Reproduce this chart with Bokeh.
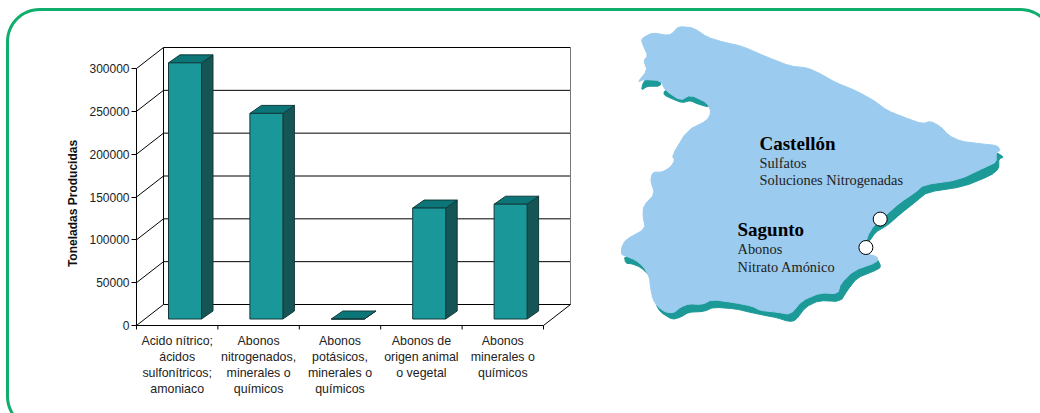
import numpy as np
from bokeh.core.properties import value
from bokeh.embed import file_html
from bokeh.models import BasicTickFormatter, FixedTicker, LinearAxis, Range1d
from bokeh.plotting import figure
from bokeh.resources import INLINE

# Production per product group (tonnes)
categories = [
    "Acido nítrico;\nácidos\nsulfonítricos;\namoniaco",
    "Abonos\nnitrogenados,\nminerales o\nquímicos",
    "Abonos\npotásicos,\nminerales o\nquímicos",
    "Abonos de\norigen animal\no vegetal",
    "Abonos\nminerales o\nquímicos",
]
production = [299000, 240000, 0, 129500, 134000]
y_ticks = [0, 50000, 100000, 150000, 200000, 250000, 300000]
y_title = "Toneladas Producidas"

# Outline of the mainland and its highlighted coast, on the page grid
land_x = [640.7, 651.7, 668.3, 673, 678, 693, 706.7, 723, 741.7, 766.7, 790, 806.7, 820, 835, 855, 873.3, 886.7, 903.3, 921.7, 930, 940, 948.3, 960, 980, 996.7, 1000, 995.7, 995.7, 986.7, 958.3, 923.3, 915, 900, 886.7, 873.3, 866.7, 863, 877, 876.7, 853.3, 840, 837.3, 820, 801.7, 790, 776.7, 760, 751.7, 735, 711.7, 701.7, 688.3, 680, 673.3, 665, 656.7, 652.3, 650, 649, 643, 635, 624, 621, 621, 625, 645, 642.3, 643.3, 654.3, 650, 652.3, 661.7, 670, 674.3, 671.7, 686.7, 706.7, 710.7, 706.7, 690, 680, 665, 660, 643.3, 637.3, 646.7, 643.3, 647.3, 642.7]
land_y = [38.3, 32.3, 35, 31.7, 26, 27.3, 36.7, 41.7, 45.7, 56.7, 65.7, 67.3, 73.3, 82, 90, 100, 110, 116.7, 123.3, 120.7, 126, 135, 140.7, 143.3, 145, 150, 151.7, 161.7, 165.7, 179.3, 184.3, 191.7, 201.7, 213.3, 225, 236, 253, 256, 261.7, 270, 283.3, 293.3, 292.3, 300, 314, 311.7, 310, 305.7, 302.3, 299, 304, 303.3, 306.7, 312.3, 311.7, 305.7, 298.3, 286.7, 276.7, 266, 259.5, 255, 254, 247.3, 239.3, 228.3, 215, 205, 193.3, 180, 171.7, 171.7, 166.7, 160, 155, 130, 120, 111.7, 102.3, 94.3, 100, 90, 80, 79, 81.7, 70, 60, 55, 45]

coast_x = [
    [645, 660, 660, 646.7, 641, 642.3],
    [664, 670, 681.7, 690, 700, 708.3, 708.3, 696.7, 690, 681.7, 670, 663.3],
    [995.7, 1003.3, 998.3, 998.3, 990, 963.3, 926.7, 916.7, 900, 886.7, 875, 868.3, 865, 873.3, 886.7, 900, 915, 923.3, 958.3, 986.7, 995.7],
    [876.7, 880.7, 873.3, 856.7, 846.7, 840, 818.3, 805, 795, 788.3, 776.7, 765, 751.7, 735, 713.3, 703.3, 688.3, 680, 671.7, 660, 655, 700, 840],
    [624, 635, 643.3, 649, 640, 631.7, 625],
]
coast_y = [
    [79, 79, 85.7, 85.7, 89.7, 83.3],
    [90, 91, 96, 94, 98.3, 102.3, 106.7, 103.3, 100, 102.3, 97.7, 94.3],
    [151.7, 156.7, 158.3, 168.3, 175, 186, 191.7, 200, 213.3, 225, 231.7, 241.7, 235, 225, 213.3, 201.7, 191.7, 184.3, 179.3, 165.7, 161.7],
    [258, 266.7, 270.7, 277.3, 290, 301, 300, 306.7, 320, 321, 317.3, 315, 312.3, 308.3, 306.7, 311, 311.7, 316.7, 319, 311.7, 303.3, 290, 270],
    [255.7, 259, 266.7, 275, 266.7, 263.3, 262.7],
]

# Plant sites
site_x = [879.7, 865.4]
site_y = [218.6, 247]

# Place names with their products
heading_x = [759, 737]
heading_y = [143, 229]
heading_text = ["Castellón", "Sagunto"]
detail_x = [759, 759, 737, 737]
detail_y = [162, 179, 248, 266]
detail_text = ["Sulfatos", "Soluciones Nitrogenadas", "Abonos", "Nitrato Amónico"]

# Pixel scale of the value axis and of the category slots
PX_PER_UNIT = 257 / 300000
SLOT_PX = 81.4
ORIGIN_X, ORIGIN_Y = 136, 325
W, H = 1040, 413


def dx(px):
    return px / SLOT_PX


def dy(px):
    return px / PX_PER_UNIT


def soften(xs, ys):
    """One corner-cutting pass so the coast does not read as straight segments."""
    pts = np.column_stack([xs, ys])
    nxt = np.roll(pts, -1, axis=0)
    cut = np.empty((2 * len(pts), 2))
    cut[0::2] = 0.8 * pts + 0.2 * nxt
    cut[1::2] = 0.2 * pts + 0.8 * nxt
    return cut[:, 0].tolist(), cut[:, 1].tolist()


p = figure(
    width=W, height=H, output_backend="svg", toolbar_location=None,
    x_range=Range1d(-ORIGIN_X / SLOT_PX, (W - ORIGIN_X) / SLOT_PX),
    y_range=Range1d((ORIGIN_Y - H) / PX_PER_UNIT, ORIGIN_Y / PX_PER_UNIT),
    x_axis_type=None, y_axis_type=None, min_border=0,
)
p.outline_line_color = None
p.grid.visible = False
p.background_fill_color = "white"
p.extra_x_ranges["page"] = Range1d(0, W)
p.extra_y_ranges["page"] = Range1d(H, 0)
page = dict(x_range_name="page", y_range_name="page")

# Rounded panel frame, running off the right and bottom edges
L, T, R, B, rad = 7, 9, 1052, 428, 32
arc = np.linspace(0, np.pi / 2, 16)
frame_x = np.concatenate([L + rad - rad * np.cos(arc), R - rad + rad * np.sin(arc),
                          R - rad + rad * np.cos(arc), L + rad - rad * np.sin(arc), [L]])
frame_y = np.concatenate([T + rad - rad * np.sin(arc), T + rad - rad * np.cos(arc),
                          B - rad + rad * np.sin(arc), B - rad + rad * np.cos(arc), [T + rad]])
p.line(frame_x, frame_y, line_color="#10AE6C", line_width=3, **page)

# Back wall, floor and gridlines of the 3D box
depth_x, depth_y = dx(27), dy(21)
n = len(categories)
for t in y_ticks:
    p.line([depth_x, n + depth_x], [t + depth_y, t + depth_y], line_color="black", line_width=1)
    p.line([0, depth_x], [t, t + depth_y], line_color="black", line_width=1)
p.line([depth_x, depth_x], [depth_y, y_ticks[-1] + depth_y], line_color="black", line_width=1)
p.line([n + depth_x, n + depth_x], [depth_y, y_ticks[-1] + depth_y], line_color="#777777", line_width=1)
p.line([n, n + depth_x], [0, depth_y], line_color="black", line_width=1)

# Bars as front face, side face and top face
bar_left = [i + dx(32) for i in range(n)]
bar_w, bar_base = dx(33), dy(6.5)
side_x, side_y = dx(11.5), dy(8)
front = "#1A9899"
side = "#165556"
top = "#0C7577"
edge = "#123A3B"
p.patches(
    [[l + bar_w, l + bar_w + side_x, l + bar_w + side_x, l + bar_w] for l in bar_left],
    [[bar_base, bar_base + side_y, bar_base + side_y + v, bar_base + v] for v in production],
    fill_color=side, line_color=edge,
)
p.patches(
    [[l, l + side_x, l + bar_w + side_x, l + bar_w] for l in bar_left],
    [[bar_base + v, bar_base + side_y + v, bar_base + side_y + v, bar_base + v] for v in production],
    fill_color=top, line_color=edge,
)
p.quad(left=bar_left, right=[l + bar_w for l in bar_left], bottom=bar_base,
       top=[bar_base + v for v in production], fill_color=front, line_color=edge)

# Value axis on the front edge
y_axis = LinearAxis(fixed_location=0, bounds=(0, 300000), ticker=FixedTicker(ticks=y_ticks),
                    formatter=BasicTickFormatter(use_scientific=False))
y_axis.major_label_text_font = "Liberation Sans"
y_axis.major_label_text_font_size = "12px"
y_axis.major_label_text_color = "#222222"
y_axis.major_tick_in = 0
y_axis.major_tick_out = 5
y_axis.minor_tick_line_color = None
y_axis.major_label_standoff = 2
p.add_layout(y_axis, "left")

# Category baseline with its slot ticks
p.line([0, n], [0, 0], line_color="black", line_width=1)
p.segment(list(range(n + 1)), [0] * (n + 1), list(range(n + 1)), [dy(-4)] * (n + 1),
          line_color="black", line_width=1)

# Category captions under each slot, title along the value axis
p.text(
    [i + 0.5 for i in range(n)], [dy(-8)] * n, text=categories,
    text_font=value("Liberation Sans"), text_font_size="12.4px", text_color="#222222",
    text_align="center", text_baseline="top", text_line_height=1.16,
)
p.text(
    [72], [203], text=[y_title], angle=np.pi / 2,
    text_font=value("Liberation Sans"), text_font_style="bold", text_font_size="12px",
    text_color="#111111", text_align="center", text_baseline="middle", **page,
)

# Map: coast band first, land over it, then the sites and labels
soft_coast = [soften(x, y) for x, y in zip(coast_x, coast_y)]
soft_land = soften(land_x, land_y)
p.patches([c[0] for c in soft_coast], [c[1] for c in soft_coast],
          fill_color="#1C9A98", line_color="#1C9A98", line_width=1, **page)
p.patch(soft_land[0], soft_land[1], fill_color="#9BCBEE", line_color="#9BCBEE", line_width=1, **page)
p.scatter(site_x, site_y, size=14, marker="circle", fill_color="white", line_color="black", line_width=1, **page)
p.text(
    heading_x, heading_y, text=heading_text, text_font=value("Liberation Serif"),
    text_font_style="bold", text_font_size="19px", text_color="black",
    text_baseline="middle", **page,
)
p.text(
    detail_x, detail_y, text=detail_text, text_font=value("Liberation Serif"),
    text_font_size="14.4px", text_color="#222222", text_baseline="middle", **page,
)

open("out.html", "w").write(file_html(p, INLINE))
